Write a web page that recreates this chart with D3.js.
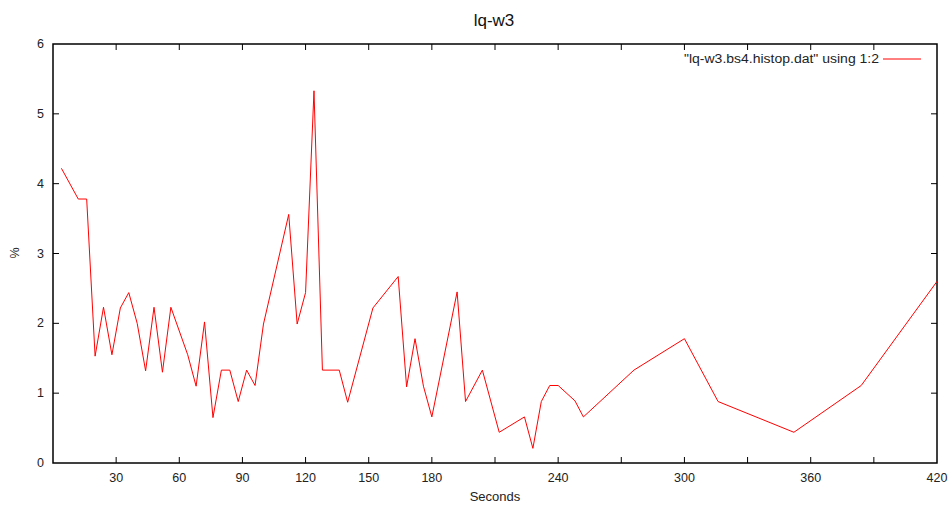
<!DOCTYPE html>
<html><head><meta charset="utf-8">
<script src="https://cdn.jsdelivr.net/npm/d3@7"></script>
<style>body{margin:0;background:#fff}svg{display:block;font-family:"Liberation Sans",Arial,sans-serif}</style>
</head><body><svg id="c" width="952" height="509"></svg>
<script>
const seconds = [4,12,16,20,24,28,32,36,40,44,48,52,56,64,68,72,76,80,84,88,92,96,100,112,116,120,124,128,136,140,152,164,168,172,176,180,192,196,204,212,224,228,232,236,240,248,252,276,300,316,352,384,420];
const percent = [4.22,3.78,3.78,1.53,2.23,1.55,2.22,2.44,2.0,1.32,2.23,1.30,2.23,1.55,1.10,2.02,0.65,1.33,1.33,0.88,1.33,1.11,1.99,3.56,1.99,2.44,5.33,1.33,1.33,0.87,2.22,2.67,1.09,1.78,1.10,0.66,2.45,0.88,1.33,0.44,0.66,0.21,0.88,1.11,1.11,0.89,0.66,1.33,1.78,0.88,0.44,1.11,2.60];
const xTicks = [30,60,90,120,150,180,210,240,270,300,330,360,390,420];
const xTickLabels = ["30","60","90","120","150","180","","240","","300","","360","","420"];
const yTicks = [0,1,2,3,4,5,6];
const title = "lq-w3", xLabel = "Seconds", yLabel = "%";
const legendLabel = "\"lq-w3.bs4.histop.dat\" using 1:2";

const svg = d3.select("#c");
const L=53, R=937, T=44, B=463;
const x = d3.scaleLinear().domain([0,420]).range([L,R]);
const y = d3.scaleLinear().domain([0,6]).range([B,T]);
const data = seconds.map((s,i)=>({s, v:percent[i]}));

const tl = 6;
const xt = xTicks.filter(t=>t<420);
const gt = svg.append("g").attr("stroke","#000").attr("stroke-width",1);
xt.forEach(t=>{
  gt.append("line").attr("x1",x(t)).attr("x2",x(t)).attr("y1",B).attr("y2",B-tl);
  gt.append("line").attr("x1",x(t)).attr("x2",x(t)).attr("y1",T).attr("y2",T+tl);
});
yTicks.filter(t=>t>0&&t<6).forEach(t=>{
  gt.append("line").attr("x1",L).attr("x2",L+tl).attr("y1",y(t)).attr("y2",y(t));
  gt.append("line").attr("x1",R).attr("x2",R-tl).attr("y1",y(t)).attr("y2",y(t));
});

xTicks.forEach((t,i)=>{
  svg.append("text").attr("x",x(t)).attr("y",B+19).attr("text-anchor","middle")
    .attr("font-size",12.5).attr("fill","#222").text(xTickLabels[i]);
});
yTicks.forEach(t=>{
  svg.append("text").attr("x",L-9).attr("y",y(t)+4).attr("text-anchor","end")
    .attr("font-size",12.5).attr("fill","#222").text(t);
});

svg.append("rect").attr("x",L).attr("y",T).attr("width",R-L).attr("height",B-T)
  .attr("fill","none").attr("stroke","#000").attr("stroke-width",1.5);

svg.append("path").datum(data).attr("fill","none").attr("stroke","#ff0000").attr("stroke-width",1)
  .attr("d", d3.line().x(d=>x(d.s)).y(d=>y(d.v)));

svg.append("text").attr("x",494).attr("y",26).attr("text-anchor","middle").attr("font-size",17).attr("fill","#111").text(title);
svg.append("text").attr("x",495).attr("y",501).attr("text-anchor","middle").attr("font-size",13).attr("fill","#222").text(xLabel);
svg.append("text").attr("transform","translate(19,253) rotate(-90)").attr("text-anchor","middle").attr("font-size",12.5).attr("fill","#222").text(yLabel);

svg.append("text").attr("x",684).attr("y",63).attr("font-size",12.5).attr("fill","#222")
  .attr("textLength",195).attr("lengthAdjust","spacingAndGlyphs").text(legendLabel);
svg.append("line").attr("x1",883).attr("x2",921).attr("y1",59).attr("y2",59).attr("stroke","#ff0000").attr("stroke-width",1);
</script></body></html>
